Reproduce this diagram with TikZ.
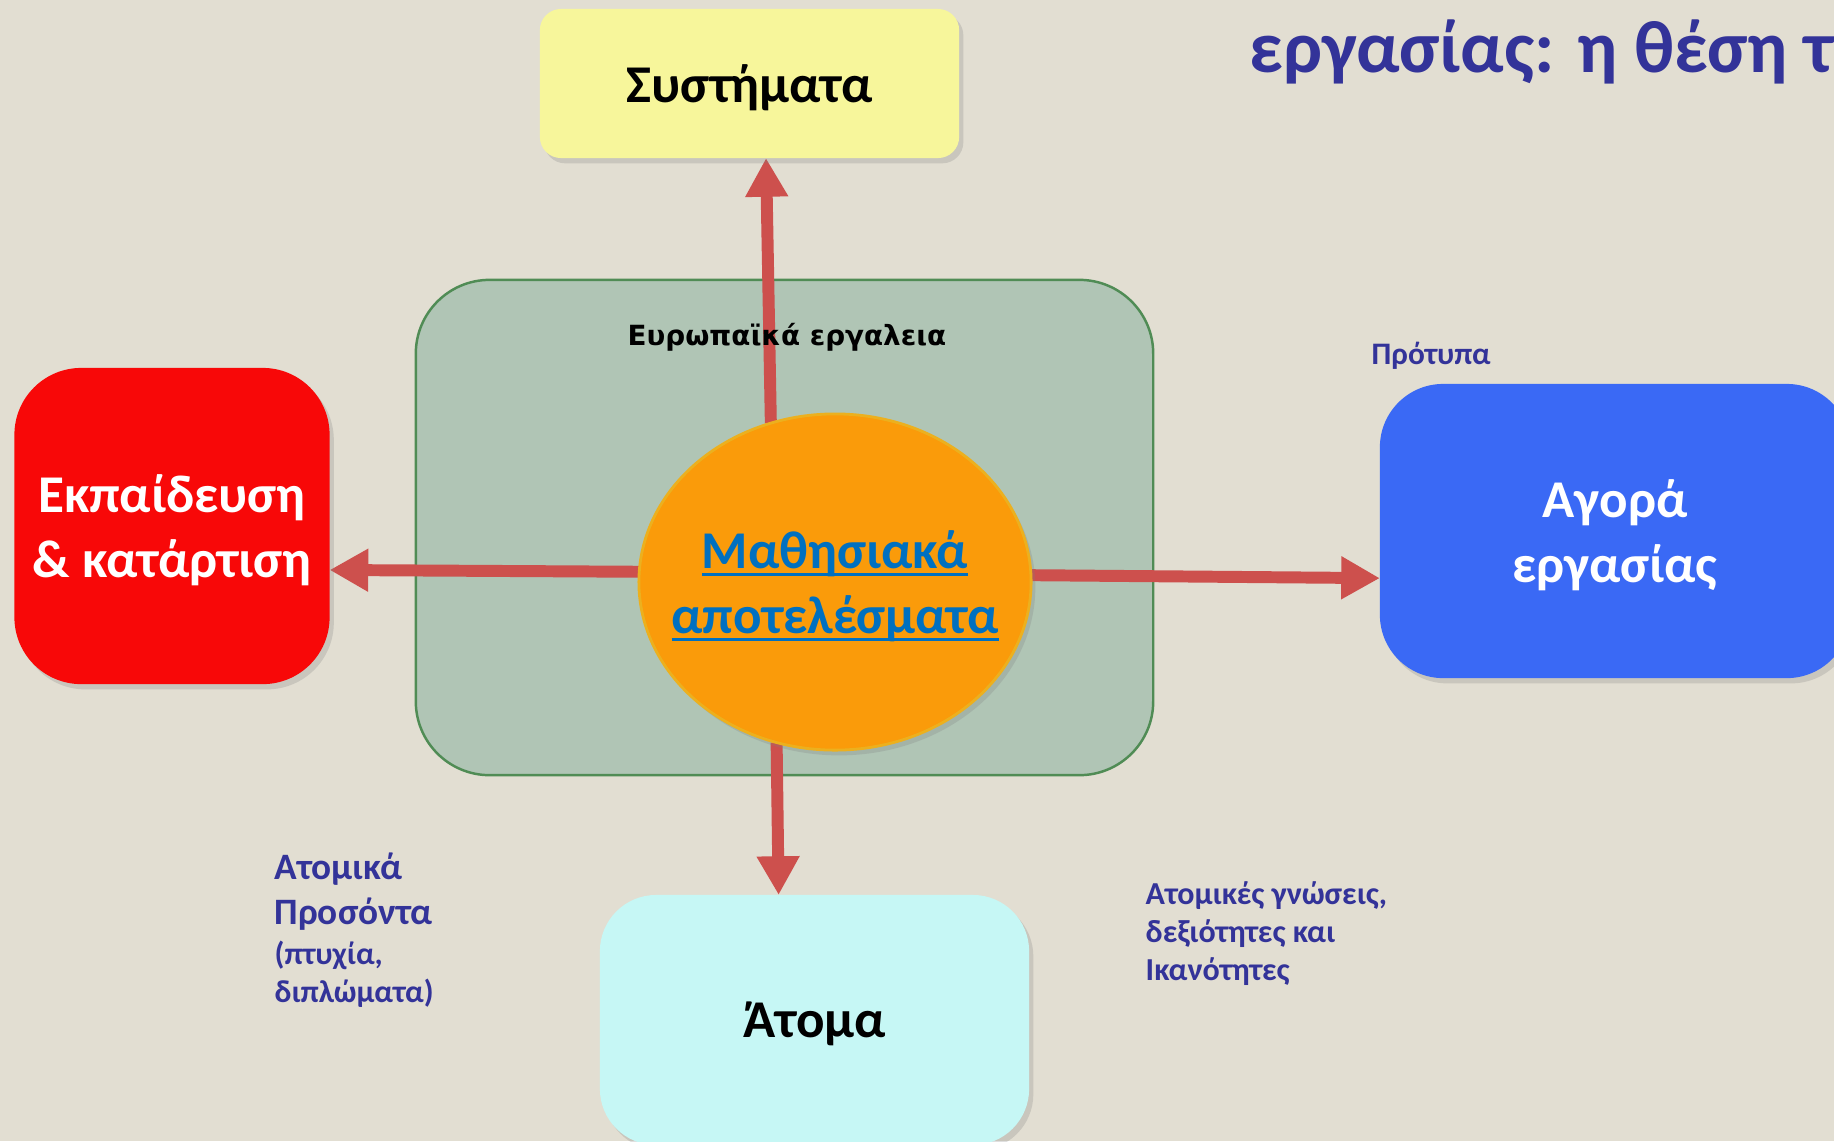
\documentclass[tikz,border=0pt]{standalone}
\usepackage{fontspec}
\setmainfont{Carlito}
\newfontfamily\gothfont{DejaVu Sans}
\usetikzlibrary{shapes.geometric,arrows.meta,shadows}

\definecolor{bgcol}{RGB}{226,222,210}
\definecolor{sysfill}{RGB}{247,246,155}
\definecolor{edufill}{RGB}{248,8,8}
\definecolor{jobfill}{RGB}{58,105,245}
\definecolor{perfill}{RGB}{198,247,245}
\definecolor{ellfill}{RGB}{250,155,10}
\definecolor{ellline}{RGB}{236,176,30}
\definecolor{grpfill}{RGB}{176,197,181}
\definecolor{grpline}{RGB}{80,140,85}
\definecolor{arrcol}{RGB}{205,80,77}
\definecolor{lblcol}{RGB}{51,51,153}
\definecolor{linkcol}{RGB}{0,112,192}

\newcommand{\ulword}[1]{\setbox0\hbox{#1}\rlap{\raisebox{-2.2pt}{\rule{\wd0}{0.9pt}}}\box0}

\pgfdeclarelayer{back}
\pgfdeclarelayer{mid}
\pgfsetlayers{back,mid,main}

\begin{document}
\begin{tikzpicture}[x=0.01cm,y=-0.01cm]
\tikzstyle{box}=[inner sep=0pt,outer sep=0pt,align=center,text depth=0pt,font=\fontsize{15.1}{18.6}\selectfont\bfseries,drop shadow={opacity=0.25,shadow xshift=1.2pt,shadow yshift=-1.5pt}];
\tikzstyle{ell}=[ellipse,inner xsep=-8pt,inner ysep=0pt,outer sep=0pt,align=center,text depth=0pt,fill=ellfill,draw=ellline,line width=0.8pt,minimum width=3.92cm,minimum height=3.36cm,text=linkcol,font=\fontsize{15.1}{18.6}\selectfont\bfseries,drop shadow={opacity=0.25,shadow xshift=1.2pt,shadow yshift=-1.5pt}];
\tikzstyle{grp}=[inner sep=0pt,outer sep=0pt,fill=grpfill,draw=grpline,line width=0.7pt,rounded corners=21pt,minimum width=7.37cm,minimum height=4.95cm];
\tikzstyle{note}=[inner sep=0pt,anchor=base west,align=left,text=lblcol];
\tikzstyle{alloc}=[-{Triangle[length=11pt,width=11.5pt]},line width=3.4pt,draw=arrcol];

\useasboundingbox (0,0) rectangle (1834,1141);
\begin{pgfonlayer}{back}
\fill [bgcol] (0,0) rectangle (1834,1141);
\node (v6) [grp] at (784.5,527.5) {};
\end{pgfonlayer}

\node (v1) [box,fill=sysfill,minimum width=4.19cm,minimum height=1.49cm,rounded corners=6pt] at (749.5,83.5) {Συστήματα};
\node (v2) [box,fill=edufill,text=white,minimum width=3.15cm,minimum height=3.16cm,rounded corners=19pt] at (172,526) {Εκπαίδευση\\\& κατάρτιση};
\node (v3) [box,fill=jobfill,text=white,minimum width=4.7cm,minimum height=2.94cm,rounded corners=18pt] at (1615,531) {Αγορά\\εργασίας};
\node (v4) [box,fill=perfill,minimum width=4.29cm,minimum height=2.5cm,rounded corners=16pt] at (814.5,1020) {Άτομα};
\node (v5) [ell] at (835,582) {\ulword{Μαθησιακά}\\\ulword{αποτελέσματα}};

% arrows out of the centre
\begin{pgfonlayer}{mid}
\draw [alloc] (v5.112) -- ([xshift=4.7pt]v1.south);
\draw [alloc] (v5.177) -- ([yshift=-12.5pt]v2.east);
\draw [alloc] (v5.2) -- ([yshift=-13.4pt]v3.west);
\draw [alloc] (v5.250) -- ([xshift=-10.2pt]v4.north);
\end{pgfonlayer}

\node (t1) [inner sep=0pt,anchor=base west,font=\gothfont\bfseries\fontsize{7.9}{9}\selectfont] at (627,345) {Ευρωπαϊκά εργαλεια};
\node (t2) [note,font=\bfseries\fontsize{8.9}{10}\selectfont] at (1371,364) {Πρότυπα};
\node (t3) [note,font=\bfseries\fontsize{10.6}{12.7}\selectfont] at (274,924) {Ατομικά\\Προσόντα};
\node (t4) [note,font=\bfseries\fontsize{9}{10.6}\selectfont] at (274,1002) {(πτυχία,\\διπλώματα)};
\node (t5) [note,font=\bfseries\fontsize{9.1}{10.8}\selectfont] at (1145,980) {Ατομικές γνώσεις,\\δεξιότητες και\\Ικανότητες};
\node (t6) [note,font=\bfseries\fontsize{21}{24}\selectfont] at (1249,72) {εργασίας: η θέση τ};
\end{tikzpicture}
\end{document}
